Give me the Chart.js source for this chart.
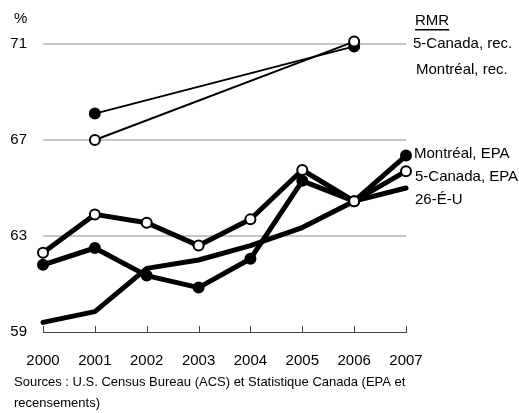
<!DOCTYPE html>
<html>
<head>
<meta charset="utf-8">
<script src="https://cdn.jsdelivr.net/npm/chart.js@4/dist/chart.umd.min.js"></script>
<style>
  html, body { margin: 0; padding: 0; background: #fff; }
  #wrap { position: relative; width: 519px; height: 413px; }
</style>
</head>
<body>
<div id="wrap"><canvas id="chart" width="519" height="413"></canvas></div>
<script>
// données
const years = ['2000', '2001', '2002', '2003', '2004', '2005', '2006', '2007'];
const montrealRec = [null, 68.1, null, null, null, null, 70.9, null];
const canadaRec = [null, 67.0, null, null, null, null, 71.1, null];
const montrealEpa = [61.8, 62.5, 61.35, 60.85, 62.05, 65.3, 64.45, 66.35];
const canadaEpa = [62.3, 63.9, 63.55, 62.6, 63.7, 65.75, 64.45, 65.7];
const usa = [59.4, 59.85, 61.65, 62.0, 62.6, 63.35, 64.45, 65.0];
const yTicks = [59, 63, 67, 71];

const FONT = '"Liberation Sans", Arial, sans-serif';

// libellés à droite + sources
const annotations = {
    id: 'annotations',
    afterDraw(chart) {
        const ctx = chart.ctx;
        const x = chart.scales.x;
        const area = chart.chartArea;
        ctx.save();

        // petites graduations vers le haut sur l'axe des x
        ctx.strokeStyle = '#444';
        ctx.lineWidth = 1;
        x.ticks.forEach((t, i) => {
            const px = Math.round(x.getPixelForTick(i)) + 0.5;
            ctx.beginPath();
            ctx.moveTo(px, area.bottom);
            ctx.lineTo(px, area.bottom - 6);
            ctx.stroke();
        });

        ctx.fillStyle = '#000';
        ctx.font = '15px ' + FONT;
        ctx.textBaseline = 'middle';
        ctx.textAlign = 'left';
        ctx.fillText('%', 14, 19);

        const labels = [
            ['RMR', 415, 21],
            ['5-Canada, rec.', 413, 44],
            ['Montréal, rec.', 416, 70],
            ['Montréal, EPA', 414, 154],
            ['5-Canada, EPA', 415, 177],
            ['26-É-U', 415, 200]
        ];
        labels.forEach(([txt, lx, ly]) => ctx.fillText(txt, lx, ly));
        // soulignement RMR
        const w = ctx.measureText('RMR').width;
        ctx.fillRect(415, 29, w, 1.5);

        ctx.font = '13px ' + FONT;
        ctx.fillText('Sources : U.S. Census Bureau (ACS) et Statistique Canada (EPA et', 14, 382);
        ctx.fillText('recensements)', 14, 403);
        ctx.restore();
    }
};

function lineSet(label, data, opts) {
    return Object.assign({
        label: label,
        data: data,
        borderColor: '#000',
        backgroundColor: '#000',
        pointBorderColor: '#000',
        pointBackgroundColor: '#000',
        pointRadius: 5,
        pointBorderWidth: 2,
        borderWidth: 5,
        borderJoinStyle: 'round',
        borderCapStyle: 'round',
        tension: 0,
        spanGaps: true,
        clip: false,
        fill: false
    }, opts);
}

new Chart(document.getElementById('chart'), {
    type: 'line',
    data: {
        labels: years,
        datasets: [
            lineSet('5-Canada, rec.', canadaRec, { borderWidth: 2, pointBackgroundColor: '#fff', order: 0 }),
            lineSet('Montréal, rec.', montrealRec, { borderWidth: 2, order: 1 }),
            lineSet('5-Canada, EPA', canadaEpa, { pointBackgroundColor: '#fff', order: 2 }),
            lineSet('Montréal, EPA', montrealEpa, { order: 3 }),
            lineSet('26-É-U', usa, { pointRadius: 0, order: 4 })
        ]
    },
    options: {
        responsive: false,
        animation: false,
        events: [],
        layout: { padding: { top: 44, right: 113, bottom: 0, left: 0 } },
        plugins: {
            legend: { display: false },
            tooltip: { enabled: false },
            title: { display: false }
        },
        scales: {
            x: {
                offset: false,
                grid: { display: false, drawTicks: false },
                border: { display: true, color: '#444', width: 1 },
                ticks: { color: '#000', font: { family: FONT, size: 15 }, padding: 20, maxRotation: 0 },
                afterFit(scale) { scale.height = 81; }
            },
            y: {
                min: 59,
                max: 71,
                afterBuildTicks(scale) { scale.ticks = yTicks.map(v => ({ value: v })); },
                grid: {
                    drawTicks: false,
                    lineWidth: 2,
                    color: ctx => (ctx.tick && ctx.tick.value === 59) ? 'rgba(0,0,0,0)' : '#c6c6c6'
                },
                border: { display: false },
                ticks: { color: '#000', font: { family: FONT, size: 15 }, padding: 16 },
                afterFit(scale) { scale.width = 43; }
            }
        }
    },
    plugins: [annotations]
});
</script>
</body>
</html>
